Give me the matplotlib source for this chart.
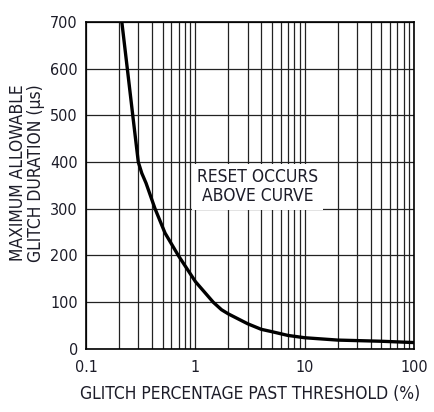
import matplotlib.pyplot as plt
from matplotlib import font_manager
from matplotlib.ticker import LogLocator, FixedLocator, FixedFormatter, NullFormatter

# glitch percentage past threshold (%) vs max allowable glitch duration (us)
glitch_pct = [0.212, 0.238, 0.267, 0.300, 0.323, 0.353, 0.427, 0.527, 0.697, 1.0,
              1.455, 1.73, 2, 3, 4, 5, 7, 10, 20, 50, 100]
duration_us = [700, 600, 500, 400, 376, 355, 300, 248, 200, 144,
               100, 84, 75, 54, 42, 37, 29, 24, 19, 16.5, 13.7]

x_ticks = [0.1, 1, 10, 100]
x_tick_labels = ['0.1', '1', '10', '100']
y_ticks = [0, 100, 200, 300, 400, 500, 600, 700]

TEXT = '#1c1c28'

# narrow font if there is one, else Roboto
narrow = None
for fam in ['Liberation Sans Narrow', 'DejaVu Sans']:
    try:
        f = font_manager.findfont(font_manager.FontProperties(family=fam, stretch='condensed'),
                                  fallback_to_default=False)
        if 'Narrow' in f or 'Condensed' in f:
            narrow = fam
            break
    except Exception:
        pass
if narrow:
    plt.rcParams['font.family'] = [narrow, 'DejaVu Sans']
    plt.rcParams['font.stretch'] = 'condensed'
    fs_tick, fs_lab = 11.5, 12.5
else:
    plt.rcParams['font.family'] = ['Roboto', 'DejaVu Sans']
    fs_tick, fs_lab = 11, 11

fig = plt.figure(figsize=(4.35, 4.12), dpi=100)
ax = fig.add_axes([0.198, 0.153, 0.754, 0.794])

ax.plot(glitch_pct, duration_us, color='black', linewidth=2.4, zorder=3)

ax.set_xscale('log')
ax.set_xlim(0.1, 100)
ax.set_ylim(0, 700)

ax.xaxis.set_major_locator(FixedLocator(x_ticks))
ax.xaxis.set_major_formatter(FixedFormatter(x_tick_labels))
ax.xaxis.set_minor_locator(LogLocator(base=10, subs=range(2, 10)))
ax.xaxis.set_minor_formatter(NullFormatter())
ax.set_yticks(y_ticks)

ax.grid(True, which='both', axis='x', color='#222222', linewidth=0.9)
ax.grid(True, which='major', axis='y', color='#222222', linewidth=0.9)
ax.tick_params(which='both', length=0, labelsize=fs_tick, colors=TEXT, pad=6)
ax.tick_params(axis='x', pad=8)
for s in ax.spines.values():
    s.set_linewidth(1.2)
    s.set_color('black')

ax.set_xlabel('GLITCH PERCENTAGE PAST THRESHOLD (%)', fontsize=fs_lab, color=TEXT, labelpad=7)
ax.set_ylabel('MAXIMUM ALLOWABLE\nGLITCH DURATION (µs)', fontsize=fs_lab, color=TEXT,
              linespacing=1.0)
ax.yaxis.set_label_coords(-0.125, 0.538)

ax.text(3.7, 347, 'RESET OCCURS\nABOVE CURVE', ha='center', va='center', fontsize=fs_lab,
        color=TEXT, linespacing=1.05, zorder=4,
        bbox=dict(facecolor='white', edgecolor='none', pad=3.5))

fig.savefig('out.png', dpi=100)
